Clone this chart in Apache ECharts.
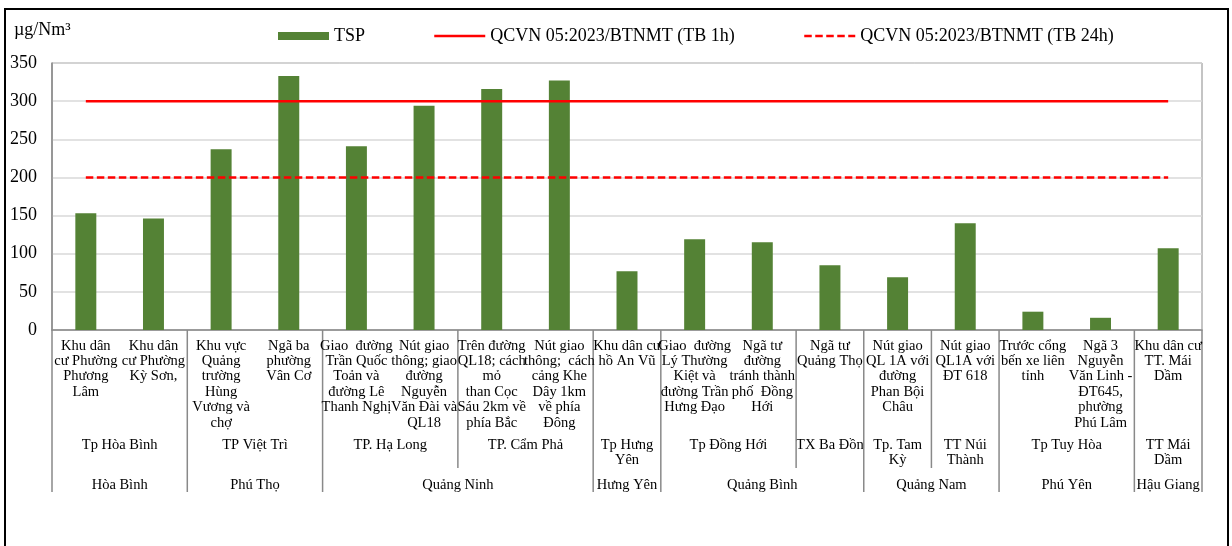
<!DOCTYPE html>
<html>
<head>
<meta charset="utf-8">
<script src="https://cdn.jsdelivr.net/npm/echarts@6/dist/echarts.min.js"></script>
<style>
html,body{margin:0;padding:0;background:#fff;}
#chart{width:1232px;height:546px;}
</style>
</head>
<body>
<div id="chart"></div>
<script>
// ---- Data ----
const categories = [
  "Khu dân\ncư Phường\nPhương\nLâm",
  "Khu dân\ncư Phường\nKỳ Sơn,",
  "Khu vực\nQuảng\ntrường\nHùng\nVương và\nchợ",
  "Ngã ba\nphường\nVân Cơ",
  "Giao  đường\nTrần Quốc\nToản và\nđường Lê\nThanh Nghị",
  "Nút giao\nthông; giao\nđường\nNguyễn\nVăn Đài và\nQL18",
  "Trên đường\nQL18; cách\nmỏ\nthan Cọc\nSáu 2km về\nphía Bắc",
  "Nút giao\nthông;  cách\ncảng Khe\nDây 1km\nvề phía\nĐông",
  "Khu dân cư\nhồ An Vũ",
  "Giao  đường\nLý Thường\nKiệt và\nđường Trần\nHưng Đạo",
  "Ngã tư\nđường\ntránh thành\nphố  Đồng\nHới",
  "Ngã tư\nQuảng Thọ",
  "Nút giao\nQL 1A với\nđường\nPhan Bội\nChâu",
  "Nút giao\nQL1A với\nĐT 618",
  "Trước cổng\nbến xe liên\ntỉnh",
  "Ngã 3\nNguyễn\nVăn Linh -\nĐT645,\nphường\nPhú Lâm",
  "Khu dân cư\nTT. Mái\nDầm"
];
const tspValues = [153, 146, 237, 333, 241, 294, 316, 327, 77, 119, 115, 85, 69, 140, 24, 16, 107];
const limit1h  = [300, 300, 300, 300, 300, 300, 300, 300, 300, 300, 300, 300, 300, 300, 300, 300, 300];
const limit24h = [200, 200, 200, 200, 200, 200, 200, 200, 200, 200, 200, 200, 200, 200, 200, 200, 200];

const cityNames = ["Tp Hòa Bình", "TP Việt Trì", "TP. Hạ Long", "TP. Cẩm Phả", "Tp Hưng\nYên", "Tp Đồng Hới", "TX Ba Đồn", "Tp. Tam\nKỳ", "TT Núi\nThành", "Tp Tuy Hòa", "TT Mái\nDầm"];
const citySpans = [2, 2, 2, 2, 1, 2, 1, 1, 1, 2, 1];
const provinceNames = ["Hòa Bình", "Phú Thọ", "Quảng Ninh", "Hưng Yên", "Quảng Bình", "Quảng Nam", "Phú Yên", "Hậu Giang"];
const provinceSpans = [2, 2, 4, 1, 3, 2, 2, 1];

const seriesNames = ["TSP", "QCVN 05:2023/BTNMT (TB 1h)", "QCVN 05:2023/BTNMT (TB 24h)"];
const unitLabel = "µg/Nm³";

// ---- Chart ----
const FONT = "'Liberation Serif', 'Times New Roman', serif";
const chart = echarts.init(document.getElementById('chart'), null, {renderer: 'canvas'});

const legendBase = {
  top: 22, itemHeight: 8, itemWidth: 51,
  textStyle: {fontFamily: FONT, fontSize: 18, color: '#000'}
};

chart.setOption({
  animation: false,
  backgroundColor: '#fff',
  grid: {left: 52, right: 30, top: 63, bottom: 216, show: true, borderColor: '#898989', borderWidth: 1},
  legend: [
    Object.assign({}, legendBase, {data: [seriesNames[0]], left: 273, icon: 'rect'}),
    Object.assign({}, legendBase, {data: [seriesNames[1]], left: 428, itemStyle: {opacity: 0}, lineStyle: {width: 2.5}}),
    Object.assign({}, legendBase, {data: [seriesNames[2]], left: 798, itemStyle: {opacity: 0}, lineStyle: {width: 2.5, type: [7.5, 3.5]}})
  ],
  xAxis: {
    type: 'category',
    data: categories,
    axisLine: {lineStyle: {color: '#898989', width: 1.5}},
    axisTick: {show: false},
    axisLabel: {interval: 0, margin: 8, fontFamily: FONT, fontSize: 14.5, lineHeight: 15.4, color: '#000', hideOverlap: false}
  },
  yAxis: {
    type: 'value', min: 0, max: 350, interval: 50,
    axisLine: {show: true, lineStyle: {color: '#898989', width: 1.5}},
    axisTick: {show: false},
    axisLabel: {margin: 15, fontFamily: FONT, fontSize: 18, color: '#000'},
    splitLine: {lineStyle: {color: '#d9d9d9', width: 1.5}}
  },
  series: [
    {name: seriesNames[0], type: 'bar', data: tspValues, barWidth: '31%', itemStyle: {color: '#548235'}, z: 2},
    {name: seriesNames[1], type: 'line', data: limit1h, symbol: 'none', lineStyle: {color: '#ff0000', width: 2.5}, itemStyle: {color: '#ff0000'}, z: 3},
    {name: seriesNames[2], type: 'line', data: limit24h, symbol: 'none', lineStyle: {color: '#ff0000', width: 2.5, type: [7.5, 3.5]}, itemStyle: {color: '#ff0000'}, z: 3}
  ]
});

function buildGroups() {
  const cx = i => chart.convertToPixel({xAxisIndex: 0}, i);
  const yBase = chart.convertToPixel({yAxisIndex: 0}, 0);
  const half = (cx(1) - cx(0)) / 2;
  const bound = i => cx(i) - half; // left boundary of category i
  const els = [];
  const lineStyle = {stroke: '#898989', lineWidth: 1.5};

  const provBounds = new Set([0]);
  let s = 0;
  provinceSpans.forEach((n, k) => {
    const e = s + n;
    provBounds.add(e);
    els.push({type: 'text', silent: true, style: {
      text: provinceNames[k], x: (bound(s) + bound(e)) / 2, y: yBase + 155,
      font: '14.5px ' + FONT, fill: '#000', align: 'center', verticalAlign: 'middle'}});
    s = e;
  });
  const cityBounds = new Set([0]);
  s = 0;
  citySpans.forEach((n, k) => {
    const e = s + n;
    cityBounds.add(e);
    els.push({type: 'text', silent: true, style: {
      text: cityNames[k], x: (bound(s) + bound(e)) / 2, y: yBase + 107,
      font: '14.5px ' + FONT, fill: '#000', align: 'center', verticalAlign: 'top', lineHeight: 15.4}});
    s = e;
  });
  cityBounds.forEach(b => {
    const x = bound(b);
    const full = provBounds.has(b);
    els.push({type: 'line', silent: true, shape: {x1: x, y1: yBase, x2: x, y2: yBase + (full ? 162 : 138)}, style: lineStyle});
  });
  els.push({type: 'text', silent: true, style: {text: unitLabel, x: 14, y: 21, font: '18px ' + FONT, fill: '#000', align: 'left', verticalAlign: 'top'}});
  els.push({type: 'rect', silent: true, shape: {x: 5, y: 9, width: 1223, height: 560}, style: {fill: 'none', stroke: '#000', lineWidth: 2}});
  chart.setOption({graphic: els});
}
buildGroups();
</script>
</body>
</html>
